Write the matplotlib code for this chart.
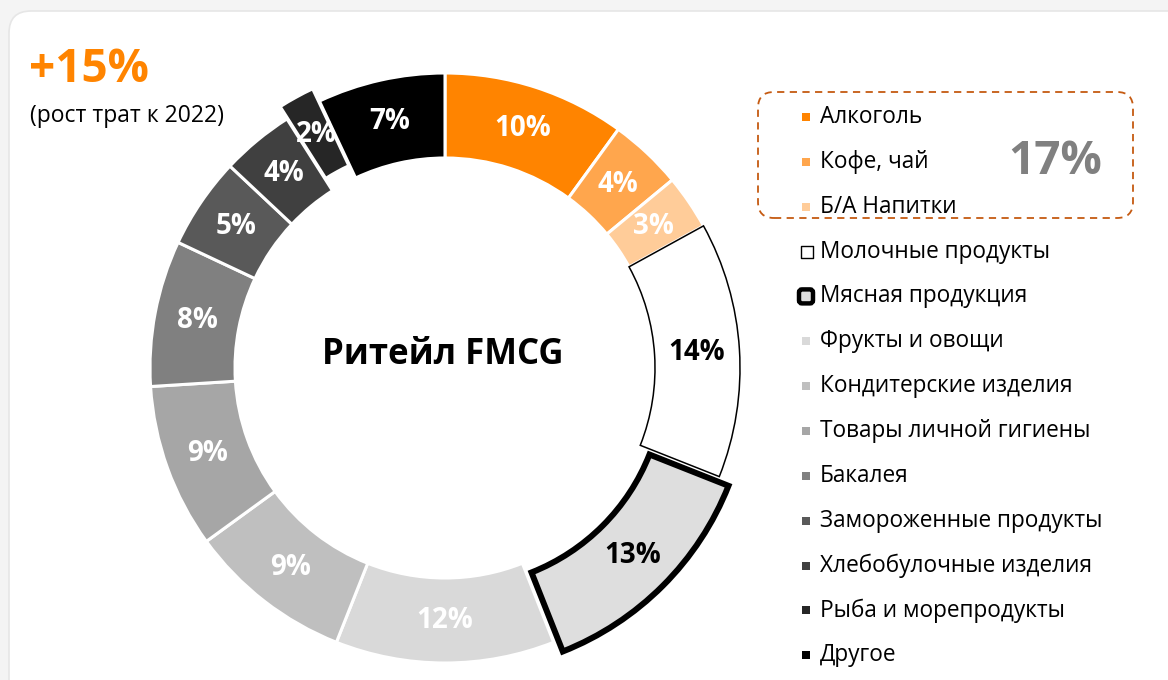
import matplotlib
matplotlib.use("Agg")
import matplotlib.pyplot as plt
from matplotlib.patches import FancyBboxPatch

plt.rcParams['font.family'] = ['Open Sans', 'DejaVu Sans']

# ---- data ----
categories = ["Алкоголь", "Кофе, чай", "Б/А Напитки", "Молочные продукты",
              "Мясная продукция", "Фрукты и овощи", "Кондитерские изделия",
              "Товары личной гигиены", "Бакалея", "Замороженные продукты",
              "Хлебобулочные изделия", "Рыба и морепродукты", "Другое"]
values = [10, 4, 3, 14, 13, 12, 9, 9, 8, 5, 4, 2, 7]
colors = ["#FF8400", "#FFA64D", "#FFCC99", "#FFFFFF", "#DEDEDE", "#D9D9D9",
          "#BFBFBF", "#A6A6A6", "#808080", "#595959", "#404040", "#262626", "#000000"]
label_colors = ["white", "white", "white", "black", "black", "white", "white",
                "white", "white", "white", "white", "white", "white"]
explode_px = [0, 0, 0, 0, 13, 0, 0, 0, 0, 0, 0, 14, 0]
center_title = "Ритейл FMCG"
growth_value = "+15%"
growth_note = "(рост трат к 2022)"
group_share = "17%"

W, H = 1168, 680
fig = plt.figure(figsize=(W / 100, H / 100), dpi=100)
fig.patch.set_facecolor("#F4F4F4")
ax = fig.add_axes([0, 0, 1, 1])

def Y(py):
    return H - py

# card background
card = FancyBboxPatch((9, -40), 1200, Y(11) + 40, boxstyle="round,pad=0,rounding_size=22",
                      facecolor="white", edgecolor="#E6E6E6", linewidth=1.2, zorder=0)
ax.add_patch(card)

cx, cy = 445, Y(368)
R = 295
wedges, texts, autotexts = ax.pie(
    values, colors=colors, startangle=90, counterclock=False, radius=R,
    center=(cx, cy), explode=explode_px,
    wedgeprops=dict(width=85, edgecolor="white", linewidth=2.2),
    autopct=lambda p: f"{p:.0f}%", pctdistance=0.855,
    textprops=dict(fontsize=20, fontweight="bold"))
for w in wedges:
    w.set_zorder(2)
for t, c in zip(autotexts, label_colors):
    t.set_color(c)
    t.set_zorder(5)
wedges[3].set_edgecolor("black")
wedges[3].set_linewidth(1.1)
wedges[4].set_edgecolor("black")
wedges[4].set_linewidth(4.3)
wedges[4].set_zorder(3)

ax.text(cx - 2, Y(355), center_title, ha="center", va="center",
        fontsize=25, fontweight="bold", color="black", zorder=5)

ax.text(29, Y(70), growth_value, ha="left", va="center", fontsize=33,
        fontweight="bold", color="#FF8400")
ax.text(30, Y(116), growth_note, ha="left", va="center", fontsize=16.5, color="black")

# dashed group box
box = FancyBboxPatch((758, Y(218)), 375, 126, boxstyle="round,pad=0,rounding_size=16",
                     facecolor="none", edgecolor="#C55A11", linewidth=1.3,
                     linestyle=(0, (4, 3)), zorder=4)
ax.add_patch(box)
ax.text(1055, Y(162), group_share, ha="center", va="center", fontsize=33,
        fontweight="bold", color="#808080")

# legend
for i, (cat, col) in enumerate(zip(categories, colors)):
    py = 117 + 44.85 * i
    if i == 3:
        ax.scatter([806.5], [Y(py)], marker="s", s=80, facecolor="white",
                   edgecolor="black", linewidth=1.0, zorder=6)
    elif i == 4:
        mk = FancyBboxPatch((799, Y(py) - 7), 14, 14, boxstyle="round,pad=0,rounding_size=3",
                            facecolor=col, edgecolor="black", linewidth=3.2, zorder=6)
        ax.add_patch(mk)
    else:
        ax.scatter([806], [Y(py)], marker="s", s=36, color=col, linewidth=0, zorder=6)
    ax.text(820, Y(py), cat, ha="left", va="center", fontsize=16.3, color="black")

ax.set_xlim(0, W)
ax.set_ylim(0, H)
ax.set_aspect("equal", adjustable="box")
ax.axis("off")
fig.savefig("out.png", dpi=100, facecolor=fig.get_facecolor())
